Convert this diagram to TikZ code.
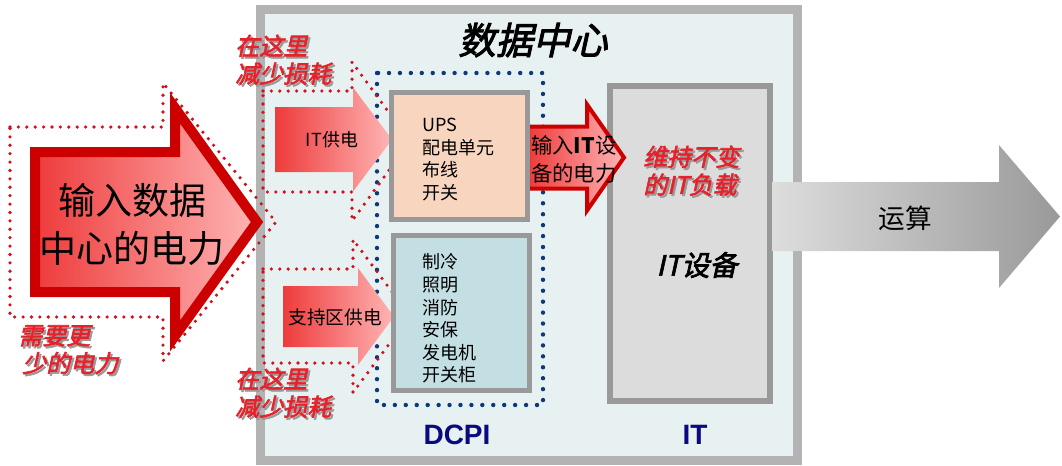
\documentclass[tikz,border=0pt]{standalone}
\usepackage{fontspec}
\setmainfont{Noto Sans CJK SC}
\newfontfamily\slfont[FakeSlant=0.22,FakeBold=2.5]{Noto Sans CJK SC}
\newfontfamily\arialfont{Liberation Sans}

\definecolor{dcfill}{HTML}{E8F1F1}
\definecolor{dcedge}{HTML}{B3B3B3}
\definecolor{boxedge}{HTML}{999999}
\definecolor{upsfill}{HTML}{F8D5BE}
\definecolor{coolfill}{HTML}{C3DFE3}
\definecolor{itfill}{HTML}{DCDCDC}
\definecolor{darkred}{HTML}{CC0000}
\definecolor{redA}{HTML}{EE3B3B}
\definecolor{redB}{HTML}{FFB5B5}
\definecolor{annored}{HTML}{E8202A}
\definecolor{dotred}{HTML}{D0101A}
\definecolor{dotblue}{HTML}{0A3A7A}
\definecolor{labelblue}{HTML}{0A0A80}
\definecolor{grayA}{HTML}{DDDDDD}
\definecolor{grayB}{HTML}{999999}

% arrow outline: shaft start, head base, tip, centre y, shaft half, head half
\newcommand{\arrowshape}[6]{(#1,#4-#5) -- (#2,#4-#5) -- (#2,#4-#6) -- (#3,#4) -- (#2,#4+#6) -- (#2,#4+#5) -- (#1,#4+#5) -- cycle}
\newcommand{\shadowed}[1]{\rlap{\kern1.5pt\raisebox{-1.5pt}{\color{gray!80}#1}}{\color{annored}#1}}

\begin{document}
\begin{tikzpicture}[x=0.75pt,y=-0.75pt,
    redpath/.style={dotred, line width=2.7pt, line cap=round, dash pattern=on 0pt off 6.3pt},
    bluepath/.style={dotblue, line width=3.3pt, line cap=round, dash pattern=on 0pt off 8.2pt},
    unitbox/.style={draw=boxedge, line width=3.75pt},
    feed/.style={left color=redA, right color=redB},
    annot/.style={anchor=west, inner sep=0pt, font=\slfont\fontsize{18}{19}\selectfont},
    itemlist/.style={anchor=west, align=left, inner sep=0pt, font=\fontsize{13.5}{16.9}\selectfont}]
    \useasboundingbox (0,0) rectangle (1062,465);

    % data centre
    \draw[draw=dcedge, fill=dcfill, line width=6.75pt] (260.5,9.5) rectangle (797.5,460.5);
    \node[font=\slfont\fontsize{28}{28}\selectfont] (title) at (533,40) {数据中心};
    \draw[bluepath] (377,73) rectangle (543,405);

    % dotted outlines
    \draw[redpath] \arrowshape{10}{163}{276}{222}{95}{139};
    \draw[redpath] \arrowshape{263}{352}{410}{141.5}{50.5}{79.5};
    \draw[redpath] \arrowshape{263}{353}{410}{316}{47}{76.5};

    % power arrows
    \draw[draw=darkred, line width=7.5pt, feed] \arrowshape{35}{175}{257}{222}{70}{114};
    \shade[feed] \arrowshape{275}{353}{392}{139.5}{32.5}{52};
    \shade[feed] \arrowshape{283}{358}{394}{316.5}{30.5}{48.5};

    % units
    \draw[unitbox, line width=4.5pt, fill=itfill] (610,86) rectangle (770,401);
    \draw[draw=darkred, line width=3pt, feed] \arrowshape{528}{587}{624}{157.5}{31}{53};
    \draw[unitbox, fill=upsfill] (391.5,92.5) rectangle (527.5,219.5);
    \draw[unitbox, fill=coolfill] (393.5,235.5) rectangle (529.5,390.5);

    % output
    \shade[left color=grayA, right color=grayB] \arrowshape{772}{999}{1060}{216.5}{34.5}{71.5};

    % texts
    \node[align=center, font=\fontsize{27.75}{36}\selectfont] (powerin) at (132,224) {输入数据\\中心的电力};
    \node[font=\fontsize{13.5}{16}\selectfont] (itfeed) at (332,140) {IT供电};
    \node[font=\fontsize{14}{16}\selectfont] (supportfeed) at (335,317) {支持区供电};
    \node[itemlist] (ups) at (422,159.5) {UPS\\配电单元\\布线\\开关};
    \node[itemlist] (cooling) at (422,318.5) {制冷\\照明\\消防\\安保\\发电机\\开关柜};
    \node[anchor=west, align=left, inner sep=0pt, font=\fontsize{16}{21}\selectfont] (itpower) at (531,159) {输入\textbf{IT}设\\备的电力};
    \node[font=\slfont\fontsize{21}{21}\selectfont] (itequip) at (697,265) {IT设备};
    \node[font=\fontsize{20}{20}\selectfont] (compute) at (905,218) {运算};
    \node[font=\arialfont\bfseries\fontsize{21}{21}\selectfont, labelblue] (dcpi) at (457,435) {DCPI};
    \node[font=\arialfont\bfseries\fontsize{21}{21}\selectfont, labelblue] (itlabel) at (695,435) {IT};

    % red notes
    \node[annot] (cutloss1) at (235,63.5) {\shadowed{\begin{tabular}{@{}l@{}}在这里\\减少损耗\end{tabular}}};
    \node[annot] (cutloss2) at (235,396.5) {\shadowed{\begin{tabular}{@{}l@{}}在这里\\减少损耗\end{tabular}}};
    \node[annot] (lesspower) at (18,353.5) {\shadowed{\begin{tabular}{@{}l@{}}需要更\\\,少的电力\end{tabular}}};
    \node[annot] (keepload) at (643,174.5) {\shadowed{\begin{tabular}{@{}l@{}}维持不变\\的IT负载\end{tabular}}};
\end{tikzpicture}
\end{document}
